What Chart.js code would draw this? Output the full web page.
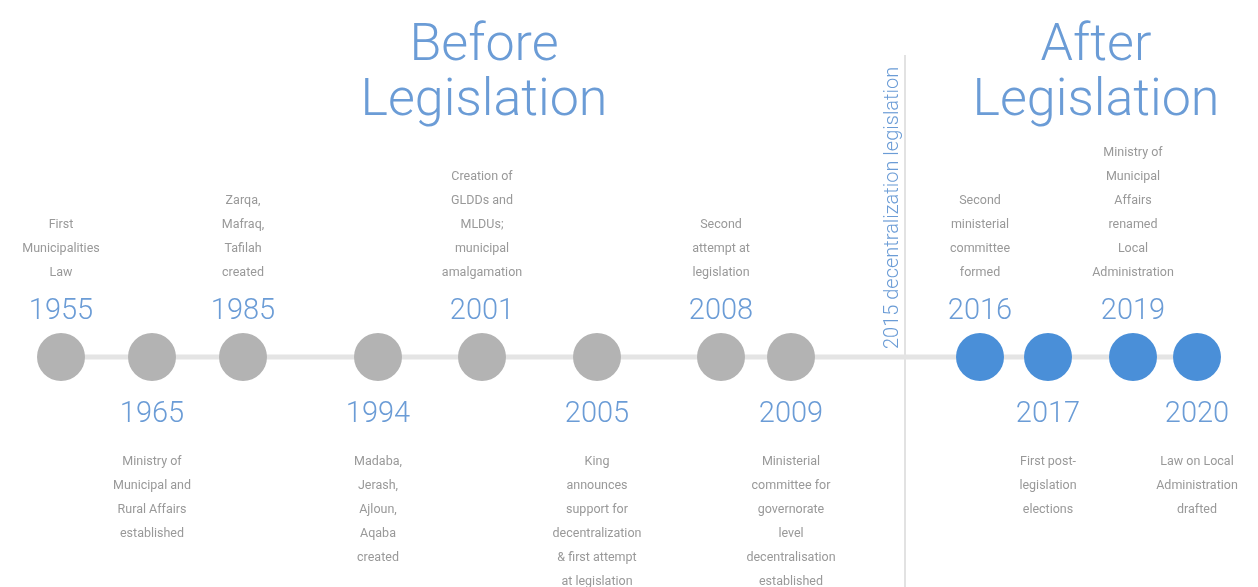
<!DOCTYPE html>
<html lang="en">
<head>
    <meta charset="UTF-8">
    <title>Decentralization Timeline</title>
    <script src="https://cdn.jsdelivr.net/npm/chart.js"></script>
    <style>
        html, body { margin: 0; padding: 0; background: #fff; }
        #wrap { width: 1258px; height: 587px; position: relative; }
    </style>
</head>
<body>
    <div id="wrap"><canvas id="chart"></canvas></div>

    <script>
        // timeline events
        const years = ['1955', '1965', '1985', '1994', '2001', '2005', '2008', '2009', '2016', '2017', '2019', '2020'];
        // position along the drawn timeline (not proportional to the year)
        const positions = [6.1, 15.2, 24.3, 37.8, 48.2, 59.7, 72.1, 79.1, 98.0, 104.8, 113.3, 119.7];
        const afterLaw = [false, false, false, false, false, false, false, false, true, true, true, true];
        const labelAbove = [true, false, true, false, true, false, true, false, true, false, true, false];
        const notes = [
            ['First', 'Municipalities', 'Law'],
            ['Ministry of', 'Municipal and', 'Rural Affairs', 'established'],
            ['Zarqa,', 'Mafraq,', 'Tafilah', 'created'],
            ['Madaba,', 'Jerash,', 'Ajloun,', 'Aqaba', 'created'],
            ['Creation of', 'GLDDs and', 'MLDUs;', 'municipal', 'amalgamation'],
            ['King', 'announces', 'support for', 'decentralization', '& first attempt', 'at legislation'],
            ['Second', 'attempt at', 'legislation'],
            ['Ministerial', 'committee for', 'governorate', 'level', 'decentralisation', 'established'],
            ['Second', 'ministerial', 'committee', 'formed'],
            ['First post-', 'legislation', 'elections'],
            ['Ministry of', 'Municipal', 'Affairs', 'renamed', 'Local', 'Administration'],
            ['Law on Local', 'Administration', 'drafted']
        ];
        const dividerPos = 90.5;
        const dividerLabel = '2015 decentralization legislation';
        const headings = [
            { lines: ['Before', 'Legislation'], pos: 48.4 },
            { lines: ['After', 'Legislation'], pos: 109.6 }
        ];

        const GREY = '#b3b3b3';
        const BLUE = '#4a8fd8';
        const TEXT_BLUE = '#6b9cd6';
        const TEXT_GREY = '#999999';
        const FONT = 'Roboto, Lato, "Liberation Sans", sans-serif';

        const pts = positions.map(p => ({ x: p, y: 0 }));

        const timelineText = {
            id: 'timelineText',
            beforeDatasetsDraw(chart) {
                const ctx = chart.ctx;
                const xs = chart.scales.x;
                const dx = xs.getPixelForValue(dividerPos);
                ctx.save();
                ctx.strokeStyle = '#e2e2e2';
                ctx.lineWidth = 2;
                ctx.beginPath();
                ctx.moveTo(dx, 55);
                ctx.lineTo(dx, chart.height);
                ctx.stroke();
                ctx.restore();
            },
            afterDatasetsDraw(chart) {
                const ctx = chart.ctx;
                const xs = chart.scales.x, ys = chart.scales.y;
                const lineY = ys.getPixelForValue(0);
                ctx.save();
                ctx.textAlign = 'center';
                ctx.textBaseline = 'middle';

                years.forEach((yr, i) => {
                    const x = xs.getPixelForValue(positions[i]);
                    const lines = notes[i];
                    ctx.font = '300 29px ' + FONT;
                    ctx.fillStyle = TEXT_BLUE;
                    if (labelAbove[i]) {
                        ctx.fillText(yr, x, lineY - 45);
                        ctx.font = '400 12.5px ' + FONT;
                        ctx.fillStyle = TEXT_GREY;
                        lines.forEach((t, k) => {
                            ctx.fillText(t, x, lineY - 84 - (lines.length - 1 - k) * 24);
                        });
                    } else {
                        ctx.fillText(yr, x, lineY + 58);
                        ctx.font = '400 12.5px ' + FONT;
                        ctx.fillStyle = TEXT_GREY;
                        lines.forEach((t, k) => {
                            ctx.fillText(t, x, lineY + 105 + k * 24);
                        });
                    }
                });

                // headings
                ctx.fillStyle = TEXT_BLUE;
                ctx.font = '300 52px ' + FONT;
                ctx.textBaseline = 'alphabetic';
                headings.forEach(h => {
                    const x = xs.getPixelForValue(h.pos);
                    h.lines.forEach((t, k) => ctx.fillText(t, x, 60 + k * 55));
                });

                // rotated divider label
                const dx = xs.getPixelForValue(dividerPos);
                ctx.translate(dx - 12, lineY - 8);
                ctx.rotate(-Math.PI / 2);
                ctx.textAlign = 'left';
                ctx.textBaseline = 'middle';
                ctx.font = '300 20px ' + FONT;
                ctx.fillStyle = TEXT_BLUE;
                ctx.fillText(dividerLabel, 0, 0);
                ctx.restore();
            }
        };

        new Chart(document.getElementById('chart'), {
            type: 'scatter',
            data: {
                datasets: [
                    {
                        data: pts,
                        showLine: true,
                        borderColor: '#e4e4e4',
                        borderWidth: 5,
                        pointRadius: 0,
                        order: 2
                    },
                    {
                        data: pts,
                        showLine: false,
                        pointRadius: 24,
                        pointHoverRadius: 24,
                        pointBorderWidth: 0,
                        backgroundColor: afterLaw.map(a => a ? BLUE : GREY),
                        borderColor: afterLaw.map(a => a ? BLUE : GREY),
                        order: 1
                    }
                ]
            },
            options: {
                responsive: true,
                maintainAspectRatio: false,
                animation: false,
                events: [],
                layout: { padding: 0, autoPadding: false },
                plugins: { legend: { display: false }, tooltip: { enabled: false } },
                scales: {
                    x: { type: 'linear', min: 0, max: 125.8, display: false },
                    y: { type: 'linear', min: -23, max: 35.7, display: false }
                }
            },
            plugins: [timelineText]
        });
    </script>
</body>
</html>
